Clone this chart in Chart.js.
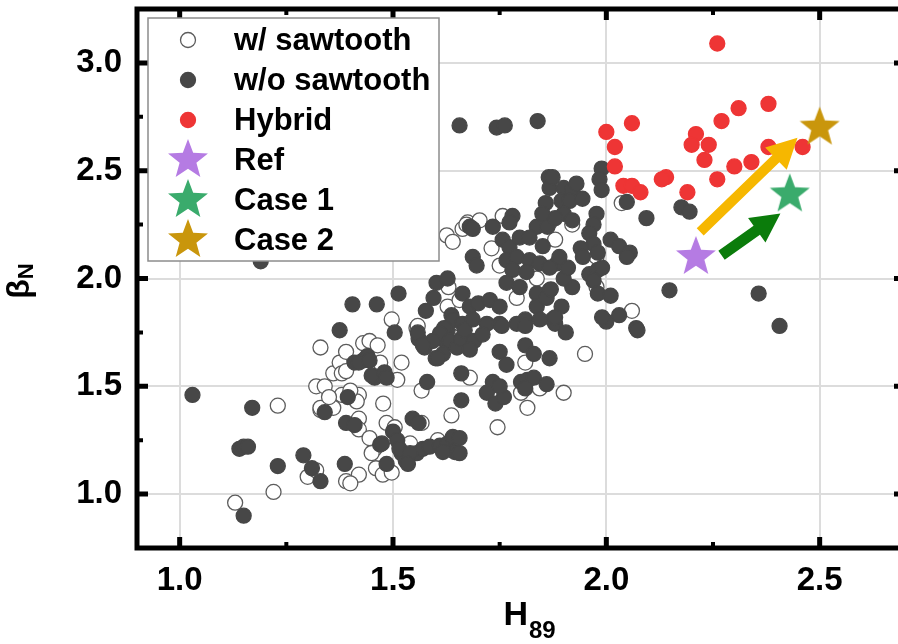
<!DOCTYPE html>
<html>
<head>
<meta charset="utf-8">
<style>
  html, body { margin: 0; padding: 0; background: #fff; overflow: hidden; }
  #wrap { position: relative; width: 920px; height: 644px; }
</style>
<script src="https://cdn.jsdelivr.net/npm/chart.js@4.4.0/dist/chart.umd.min.js"></script>
</head>
<body>
<div id="wrap"><canvas id="chart"></canvas></div>
<script>
// ----- data (H89, beta_N) -----
const withSaw = [
  [1.23,1.41],[1.30,1.08],[1.32,1.11],[1.22,1.01],[1.13,0.96],[1.33,1.68],[1.32,1.50],[1.34,1.50],
  [1.33,1.39],[1.36,1.56],[1.375,1.61],[1.38,1.56],[1.39,1.57],[1.36,1.40],[1.33,1.40],[1.38,1.46],
  [1.42,1.46],[1.415,1.43],[1.42,1.35],[1.42,1.30],[1.457,1.21],[1.39,1.06],[1.42,1.09],[1.40,1.05],
  [1.46,1.12],[1.476,1.09],[1.497,1.10],[1.445,1.26],[1.45,1.19],[1.485,1.33],[1.504,1.31],[1.477,1.42],
  [1.51,1.53],[1.52,1.61],[1.567,1.48],[1.567,1.33],[1.555,1.77],[1.43,1.70],[1.445,1.71],[1.464,1.69],
  [1.39,1.66],[1.47,1.61],[1.497,1.81],[1.54,1.235],[1.605,1.25],[1.637,1.365],[1.40,1.48],[1.35,1.45],
  [1.626,2.20],[1.64,2.17],[1.663,2.23],[1.675,2.26],[1.63,1.96],[1.628,1.87],[1.656,1.90],[1.757,2.29],
  [1.703,2.27],[1.672,2.25],[1.867,2.26],[1.88,2.18],[1.731,2.14],[1.75,2.06],[1.837,2.00],[1.79,1.91],
  [1.558,1.78],[1.62,1.72],[1.64,1.73],[1.81,1.61],[1.68,1.54],[1.80,1.47],[1.844,1.49],[1.90,1.47],
  [1.815,1.40],[1.745,1.31],[1.95,1.65],[2.036,2.35],[1.92,2.25],[1.977,2.10],[1.977,1.96],[2.06,1.85]
];
const withoutSaw = [
  [1.03,1.46],[1.17,1.40],[1.14,1.21],[1.15,1.22],[1.16,1.22],[1.23,1.13],[1.29,1.18],[1.31,1.12],
  [1.33,1.06],[1.15,0.90],[1.19,2.08],[1.34,1.38],[1.375,1.76],[1.41,1.61],[1.43,1.62],[1.44,1.64],
  [1.42,1.61],[1.445,1.62],[1.457,1.54],[1.45,1.55],[1.48,1.565],[1.485,1.54],[1.394,1.45],[1.39,1.33],
  [1.41,1.32],[1.47,1.23],[1.485,1.14],[1.387,1.14],[1.504,1.75],[1.405,1.88],[1.462,1.88],[1.513,1.93],
  [1.546,1.35],[1.56,1.33],[1.50,1.29],[1.51,1.25],[1.52,1.19],[1.53,1.155],[1.556,1.19],[1.57,1.21],
  [1.586,1.22],[1.61,1.225],[1.628,1.235],[1.474,1.235],[1.515,1.21],[1.54,1.19],[1.64,1.265],[1.645,1.195],
  [1.617,1.195],[1.535,1.14],[1.58,1.52],[1.60,1.63],[1.56,1.72],[1.574,1.68],[1.66,1.56],[1.66,1.435],
  [1.656,1.26],[1.656,1.19],[1.628,1.76],[1.626,1.70],
  [1.595,1.91],[1.577,1.85],[1.637,1.83],[1.602,1.98],[1.628,2.00],[1.663,1.93],[1.68,2.24],
  [1.64,1.806],[1.62,1.77],[1.663,1.79],[1.61,1.745],[1.593,1.71],[1.633,1.71],[1.617,1.65],[1.65,1.68],
  [1.66,1.72],[1.558,1.75],[1.57,1.69],[1.605,1.63],
  [1.687,2.23],[1.734,2.24],[1.78,2.29],[1.773,2.26],[1.837,2.24],[1.862,2.24],[1.851,2.15],[1.757,2.18],
  [1.773,2.145],[1.797,2.19],[1.82,2.19],[1.687,2.10],[1.696,2.06],[1.766,2.085],[1.79,2.10],[1.82,2.085],
  [1.844,2.07],[1.884,2.07],[1.78,2.04],[1.813,2.03],[1.867,2.05],[1.766,1.98],[1.797,1.96],[1.837,1.93],
  [1.867,1.945],[1.68,1.87],[1.70,1.885],[1.727,1.90],[1.75,1.87],[1.81,1.81],[1.837,1.87],[1.86,1.91],
  [1.874,1.81],[1.687,1.81],[1.72,1.79],[1.75,1.79],[1.844,1.81],[1.668,1.76],[1.69,1.71],[1.68,1.67],
  [1.71,1.74],[1.755,1.78],[1.79,1.79],[1.81,1.78],[1.88,1.79],[1.905,1.75],[1.75,1.66],[1.766,1.60],
  [1.81,1.69],[1.83,1.65],[1.867,1.63],[1.734,1.52],[1.72,1.47],[1.74,1.42],[1.76,1.45],[1.75,1.50],
  [1.80,1.52],[1.815,1.53],[1.83,1.54],[1.86,1.51],[1.81,1.49],
  [1.989,2.51],[1.984,2.46],[1.989,2.41],[1.865,2.47],[1.867,2.42],[1.874,2.47],[1.90,2.42],[1.92,2.41],
  [1.93,2.44],[1.895,2.36],[1.914,2.36],[1.944,2.37],[1.858,2.35],[2.048,2.355],[2.094,2.28],[2.176,2.33],
  [2.195,2.31],[1.977,2.30],[1.97,2.25],[1.96,2.21],[1.97,2.16],[2.01,2.18],[2.03,2.15],[2.055,2.12],
  [2.048,2.10],[1.94,2.14],[1.945,2.10],[1.98,2.12],[1.96,2.02],[1.98,2.04],[1.99,2.05],[1.97,1.99],
  [1.98,1.93],[2.01,1.92],[2.03,1.83],[2.00,1.80],[2.07,1.77],[1.99,1.82],[1.92,1.96],[1.895,1.87],
  [1.88,1.82],[1.87,1.95],[1.90,2.00],[1.91,2.05],[1.89,2.10],[2.148,1.945],[2.357,1.93],[2.406,1.78],
  [2.073,1.76],[1.656,2.71],[1.743,2.70],[1.762,2.71],[1.839,2.73],[1.90,2.30],[1.92,2.27],[1.88,2.28],
  [1.85,2.30]
];
const hybrid = [
  [2.26,3.09],[2.38,2.81],[2.31,2.79],[2.27,2.73],[2.06,2.72],[2.00,2.68],[2.21,2.67],[2.20,2.62],
  [2.24,2.62],[2.02,2.61],[2.38,2.61],[2.46,2.61],[2.23,2.55],[2.34,2.54],[2.30,2.52],[2.02,2.52],
  [2.14,2.47],[2.13,2.46],[2.26,2.46],[2.04,2.43],[2.06,2.43],[2.08,2.40],[2.19,2.40]
];
const refPt = [[2.21, 2.10]];
const case1Pt = [[2.43, 2.39]];
const case2Pt = [[2.50, 2.70]];
// arrows: [tail, tip]
const arrowCase2 = [[2.22, 2.216], [2.448, 2.653]];
const arrowCase1 = [[2.27, 2.108], [2.408, 2.302]];

const xTicks = [1.0, 1.5, 2.0, 2.5];
const yTicks = [1.0, 1.5, 2.0, 2.5, 3.0];
const xMinor = [1.25, 1.75, 2.25];
const yMinor = [1.25, 1.75, 2.25, 2.75];

const FONT = '"Liberation Sans", Arial, Helvetica, sans-serif';
const pts = arr => arr.map(([x, y]) => ({ x, y }));

function starImg(color, R) {
  const c = document.createElement("canvas");
  const s = Math.ceil(R * 2 + 2);
  c.width = c.height = s;
  const g = c.getContext("2d");
  g.fillStyle = color;
  g.beginPath();
  for (let i = 0; i < 10; i++) {
    const r = i % 2 ? R * 0.42 : R;
    const a = -Math.PI / 2 + i * Math.PI / 5;
    g.lineTo(s / 2 + r * Math.cos(a), s / 2 + r * Math.sin(a));
  }
  g.closePath();
  g.fill();
  return c;
}

const stars = {
  ref: starImg("#b57be3", 21),
  c1: starImg("#3aab6c", 21),
  c2: starImg("#c9960c", 21)
};

const series = [
  { label: "w/ sawtooth", data: withSaw, bg: "#ffffff", bd: "#5c5c5c", order: 5 },
  { label: "w/o sawtooth", data: withoutSaw, bg: "#474747", bd: "#474747", order: 4 },
  { label: "Hybrid", data: hybrid, bg: "#ee3535", bd: "#ee3535", order: 3 },
  { label: "Ref", data: refPt, star: stars.ref, order: 1 },
  { label: "Case 1", data: case1Pt, star: stars.c1, order: 1 },
  { label: "Case 2", data: case2Pt, star: stars.c2, order: 1 }
];

// ----- helpers -----
function arrow(ctx, x0, y0, x1, y1, w, hl, hw, color) {
  const a = Math.atan2(y1 - y0, x1 - x0), len = Math.hypot(x1 - x0, y1 - y0);
  ctx.save();
  ctx.translate(x0, y0);
  ctx.rotate(a);
  ctx.fillStyle = color;
  ctx.beginPath();
  ctx.moveTo(0, -w / 2);
  ctx.lineTo(len - hl, -w / 2);
  ctx.lineTo(len - hl, -hw / 2);
  ctx.lineTo(len, 0);
  ctx.lineTo(len - hl, hw / 2);
  ctx.lineTo(len - hl, w / 2);
  ctx.lineTo(0, w / 2);
  ctx.closePath();
  ctx.fill();
  ctx.restore();
}

const decor = {
  id: "decor",
  afterDatasetDraw(chart, args) {
    if (args.index !== 2) return; // arrows go above Hybrid, below the stars
    const { ctx, scales: { x, y } } = chart;
    const px = p => [x.getPixelForValue(p[0]), y.getPixelForValue(p[1])];
    const [a0, a1] = [px(arrowCase2[0]), px(arrowCase2[1])];
    arrow(ctx, a0[0], a0[1], a1[0], a1[1], 10, 30, 31, "#f6b700");
    const [b0, b1] = [px(arrowCase1[0]), px(arrowCase1[1])];
    arrow(ctx, b0[0], b0[1], b1[0], b1[1], 11, 29, 30, "#0b7c0b");
  },
  afterDraw(chart) {
    const { ctx, chartArea: ca, scales: { x, y } } = chart;
    ctx.save();
    // frame
    ctx.strokeStyle = "#000";
    ctx.lineWidth = 5;
    ctx.strokeRect(ca.left, ca.top, ca.right - ca.left, ca.bottom - ca.top);
    const tick = (vals, len, lw) => {
      ctx.lineWidth = lw;
      ctx.beginPath();
      for (const v of vals.x) {
        const p = x.getPixelForValue(v);
        ctx.moveTo(p, ca.bottom); ctx.lineTo(p, ca.bottom - len);
        ctx.moveTo(p, ca.top); ctx.lineTo(p, ca.top + len);
      }
      for (const v of vals.y) {
        const p = y.getPixelForValue(v);
        ctx.moveTo(ca.left, p); ctx.lineTo(ca.left + len, p);
        ctx.moveTo(ca.right, p); ctx.lineTo(ca.right - len, p);
      }
      ctx.stroke();
    };
    tick({ x: xTicks, y: yTicks }, 11, 5);
    tick({ x: xMinor, y: yMinor }, 6, 4);

    // legend
    ctx.fillStyle = "#fff";
    ctx.fillRect(148, 18, 291, 243);
    ctx.strokeStyle = "#8c8c8c";
    ctx.lineWidth = 1.5;
    ctx.strokeRect(148, 18, 291, 243);
    series.forEach((s, i) => {
      const cy = 40 + i * 40;
      if (s.star) {
        ctx.drawImage(s.star, 188 - s.star.width / 2, cy - s.star.height / 2);
      } else {
        ctx.beginPath();
        ctx.arc(188, cy, 7.5, 0, Math.PI * 2);
        ctx.fillStyle = s.bg; ctx.fill();
        ctx.strokeStyle = s.bd; ctx.lineWidth = 1.3; ctx.stroke();
      }
      ctx.fillStyle = "#000";
      ctx.font = `bold 31px ${FONT}`;
      ctx.textBaseline = "middle";
      ctx.textAlign = "left";
      ctx.fillText(s.label, 234, cy + 1);
    });

    // axis titles with subscripts
    ctx.textBaseline = "alphabetic";
    ctx.fillStyle = "#000";
    ctx.font = `bold 34px ${FONT}`;
    const wH = ctx.measureText("H").width;
    ctx.font = `bold 24px ${FONT}`;
    const w89 = ctx.measureText("89").width;
    const sx = 529 - (wH + w89) / 2;
    ctx.font = `bold 34px ${FONT}`;
    ctx.fillText("H", sx, 625);
    ctx.font = `bold 24px ${FONT}`;
    ctx.fillText("89", sx + wH + 1, 638);

    ctx.save();
    ctx.translate(29, 281);
    ctx.rotate(-Math.PI / 2);
    ctx.font = `bold 32px ${FONT}`;
    const wB = ctx.measureText("β").width;
    ctx.font = `bold 22px ${FONT}`;
    const wN = ctx.measureText("N").width;
    const s0 = -(wB + wN) / 2;
    ctx.font = `bold 32px ${FONT}`;
    ctx.fillText("β", s0, 0);
    ctx.font = `bold 22px ${FONT}`;
    ctx.fillText("N", s0 + wB, 4);
    ctx.restore();
    ctx.restore();
  }
};

const tickFont = { family: FONT, size: 33, weight: "bold" };

new Chart(document.getElementById("chart"), {
  type: "scatter",
  data: {
    datasets: series.map(s => ({
      label: s.label,
      data: pts(s.data),
      order: s.order,
      pointStyle: s.star || "circle",
      pointRadius: s.star ? 21 : 7.5,
      pointHoverRadius: s.star ? 21 : 7.5,
      backgroundColor: s.bg || "#000",
      borderColor: s.bd || "#000",
      pointBackgroundColor: s.bg || "#000",
      pointBorderColor: s.bd || "#000",
      pointBorderWidth: s.star ? 0 : 1.3
    }))
  },
  options: {
    responsive: true,
    maintainAspectRatio: false,
    animation: false,
    devicePixelRatio: 1,
    layout: { autoPadding: false, padding: { top: 9, right: 15, left: 0, bottom: 0 } },
    plugins: { legend: { display: false }, tooltip: { enabled: false } },
    scales: {
      x: {
        type: "linear", min: 0.9, max: 2.7,
        afterBuildTicks: s => { s.ticks = xTicks.map(v => ({ value: v })); },
        afterFit: s => { s.height = 96; s.paddingLeft = 0; s.paddingRight = 0; },
        ticks: { font: tickFont, color: "#000", padding: 13, maxRotation: 0, autoSkip: false, callback: v => Number(v).toFixed(1) },
        grid: { color: "#dcdcdc", lineWidth: 2, drawTicks: false },
        border: { display: false }
      },
      y: {
        type: "linear", min: 0.75, max: 3.25,
        afterBuildTicks: s => { s.ticks = yTicks.map(v => ({ value: v })); },
        afterFit: s => { s.width = 137; s.paddingTop = 0; s.paddingBottom = 0; },
        ticks: { font: tickFont, color: "#000", padding: 15, autoSkip: false, callback: v => Number(v).toFixed(1) },
        grid: { color: "#dcdcdc", lineWidth: 2, drawTicks: false },
        border: { display: false }
      }
    }
  },
  plugins: [decor]
});
</script>
</body>
</html>
